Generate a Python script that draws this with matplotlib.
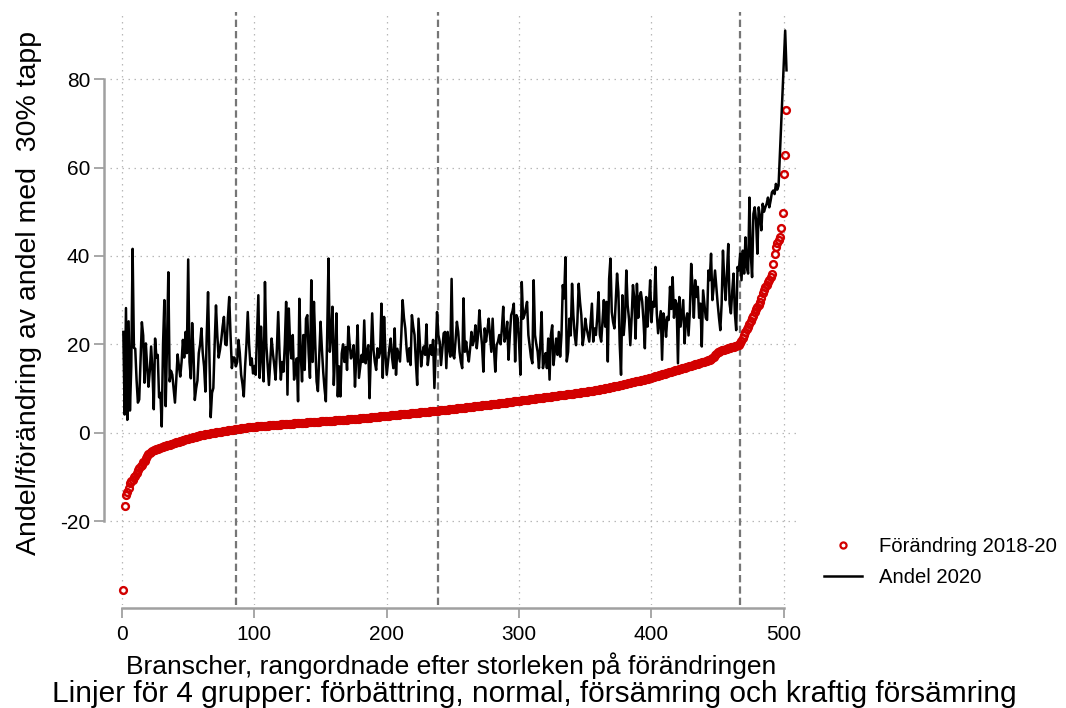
import numpy as np
import matplotlib
matplotlib.use("Agg")
import matplotlib.pyplot as plt
from matplotlib.lines import Line2D

plt.rcParams['font.family'] = ['Liberation Sans', 'DejaVu Sans']

# Change in share with a 30% drop, 2018-20, sorted ascending (one value per industry)
change_2018_20 = [
    -35.6, -16.5, -14.0, -13.4, -12.6, -11.3, -10.9, -10.6, -10.1, -9.7,
    -9.1, -8.4, -8.0, -7.6, -7.3, -6.7, -6.3, -5.8, -5.3, -4.9,
    -4.7, -4.4, -4.2, -4.0, -3.9, -3.7, -3.6, -3.5, -3.4, -3.3,
    -3.2, -3.1, -3.0, -2.9, -2.8, -2.7, -2.6, -2.5, -2.4, -2.3,
    -2.2, -2.1, -2.0, -1.9, -1.8, -1.7, -1.6, -1.5, -1.45, -1.35,
    -1.3, -1.2, -1.1, -1.05, -0.95, -0.9, -0.8, -0.7, -0.6, -0.55,
    -0.5, -0.45, -0.4, -0.3, -0.25, -0.2, -0.15, -0.1, -0.05, 0.0,
    0.05, 0.1, 0.15, 0.2, 0.25, 0.3, 0.35, 0.4, 0.45, 0.5,
    0.55, 0.58, 0.64, 0.7, 0.72, 0.79, 0.83, 0.9, 0.94, 1.0,
    1.03, 1.07, 1.1, 1.15, 1.18, 1.2, 1.24, 1.28, 1.3, 1.33,
    1.36, 1.4, 1.42, 1.45, 1.48, 1.5, 1.53, 1.56, 1.58, 1.6,
    1.63, 1.65, 1.68, 1.7, 1.73, 1.75, 1.78, 1.8, 1.82, 1.85,
    1.87, 1.9, 1.92, 1.94, 1.97, 2.0, 2.02, 2.04, 2.06, 2.09,
    2.11, 2.13, 2.16, 2.18, 2.2, 2.22, 2.25, 2.27, 2.29, 2.31,
    2.33, 2.36, 2.38, 2.4, 2.42, 2.44, 2.47, 2.49, 2.51, 2.53,
    2.55, 2.58, 2.6, 2.62, 2.64, 2.66, 2.69, 2.71, 2.73, 2.75,
    2.77, 2.8, 2.82, 2.84, 2.86, 2.88, 2.91, 2.93, 2.95, 2.97,
    3.0, 3.02, 3.05, 3.07, 3.1, 3.12, 3.15, 3.18, 3.2, 3.23,
    3.26, 3.29, 3.31, 3.34, 3.37, 3.4, 3.43, 3.46, 3.49, 3.52,
    3.55, 3.58, 3.61, 3.64, 3.67, 3.7, 3.73, 3.76, 3.79, 3.82,
    3.85, 3.88, 3.91, 3.94, 3.97, 4.0, 4.03, 4.06, 4.09, 4.12,
    4.15, 4.18, 4.21, 4.24, 4.27, 4.3, 4.33, 4.36, 4.39, 4.42,
    4.45, 4.48, 4.51, 4.54, 4.57, 4.6, 4.63, 4.66, 4.69, 4.72,
    4.75, 4.78, 4.81, 4.84, 4.87, 4.9, 4.93, 4.96, 4.99, 5.02,
    5.06, 5.1, 5.13, 5.17, 5.2, 5.24, 5.27, 5.31, 5.34, 5.38,
    5.41, 5.45, 5.48, 5.52, 5.55, 5.59, 5.62, 5.66, 5.69, 5.73,
    5.76, 5.8, 5.83, 5.87, 5.9, 5.94, 5.97, 6.01, 6.04, 6.08,
    6.11, 6.15, 6.18, 6.22, 6.25, 6.29, 6.32, 6.36, 6.39, 6.43,
    6.46, 6.5, 6.54, 6.58, 6.62, 6.66, 6.7, 6.74, 6.78, 6.82,
    6.86, 6.9, 6.94, 6.98, 7.02, 7.06, 7.1, 7.14, 7.18, 7.22,
    7.26, 7.3, 7.34, 7.38, 7.42, 7.46, 7.5, 7.54, 7.58, 7.62,
    7.66, 7.7, 7.74, 7.78, 7.82, 7.86, 7.9, 7.94, 7.98, 8.02,
    8.06, 8.1, 8.14, 8.18, 8.22, 8.26, 8.3, 8.34, 8.38, 8.42,
    8.46, 8.5, 8.54, 8.58, 8.62, 8.66, 8.7, 8.74, 8.78, 8.82,
    8.86, 8.9, 8.94, 8.98, 9.02, 9.06, 9.1, 9.14, 9.18, 9.22,
    9.27, 9.32, 9.37, 9.42, 9.47, 9.52, 9.57, 9.62, 9.67, 9.72,
    9.78, 9.84, 9.9, 9.96, 10.02, 10.08, 10.14, 10.2, 10.26, 10.32,
    10.39, 10.46, 10.53, 10.6, 10.67, 10.74, 10.81, 10.88, 10.95, 11.02,
    11.09, 11.16, 11.23, 11.3, 11.37, 11.44, 11.51, 11.58, 11.65, 11.72,
    11.79, 11.86, 11.93, 12.0, 12.08, 12.16, 12.24, 12.32, 12.4, 12.48,
    12.57, 12.66, 12.75, 12.84, 12.93, 13.02, 13.11, 13.2, 13.29, 13.38,
    13.47, 13.56, 13.65, 13.74, 13.83, 13.92, 14.01, 14.1, 14.19, 14.28,
    14.37, 14.46, 14.55, 14.64, 14.73, 14.82, 14.91, 15.0, 15.09, 15.18,
    15.27, 15.36, 15.45, 15.54, 15.63, 15.72, 15.81, 15.9, 15.99, 16.08,
    16.17, 16.26, 16.35, 16.44, 16.6, 16.8, 17.1, 17.5, 17.9, 18.2,
    18.35, 18.5, 18.6, 18.7, 18.8, 18.9, 19.0, 19.1, 19.2, 19.3,
    19.4, 19.5, 19.6, 19.7, 19.8, 19.9, 20.2, 20.8, 21.4, 22.1,
    22.7, 23.4, 24.0, 24.6, 25.3, 25.9, 26.5, 27.3, 27.9, 28.5,
    29.0, 29.6, 30.5, 31.5, 32.3, 32.9, 33.4, 34.0, 34.5, 35.2,
    36.0, 38.2, 40.5, 42.0, 43.0, 43.5, 44.2, 46.4, 49.7, 58.5,
    62.8, 73.0,
]

# Share with a 30% drop in 2020, same industry order (None = missing)
share_2020 = [
    22.8, 4.1, 28.2, 2.9, 25.2, 5.0, 15.0, 41.6, 19.2, 19.0,
    12.0, 6.8, 7.5, 16.0, 25.0, 22.0, 11.3, 20.2, 15.0, 10.4,
    14.0, 19.5, 14.0, 5.3, 21.3, 17.0, 17.6, 8.0, 9.0, 1.4,
    20.0, 30.0, 6.0, 20.0, 36.3, 11.6, 14.0, 13.1, 10.0, 6.8,
    12.0, 17.7, 15.0, 12.7, 16.0, 21.0, 17.0, 22.8, 18.0, 39.2,
    16.0, 12.3, 24.8, 18.0, 7.4, 10.0, 11.8, 18.0, 20.0, 23.6,
    18.0, 15.0, 9.3, 22.0, 31.8, 18.0, 3.5, 9.0, 10.1, 20.0,
    28.8, 22.0, 17.0, 18.7, 21.0, 24.0, 26.2, 20.0, 19.8, 26.0,
    30.7, 22.0, 14.6, 17.0, 17.0, 15.0, 16.0, 21.0, 18.0, 13.1,
    11.0, 8.2, 15.0, 20.0, 27.3, 20.0, 15.3, 16.8, 13.4, 15.0,
    13.1, 22.0, 31.1, 12.4, 24.0, 17.0, 11.6, 34.1, 20.0, 15.3,
    10.8, 16.0, 21.3, 18.0, 15.3, 12.0, 19.0, 27.3, 18.0, 12.0,
    16.0, 13.8, 20.0, 29.6, 8.6, 28.1, 20.0, 16.8, 22.1, 12.0,
    15.0, 16.8, 7.1, 30.3, 18.0, 11.6, 22.1, 14.2, 25.8, 26.6,
    18.0, 12.4, 34.5, 16.0, 29.6, 20.0, 11.6, 9.4, 17.0, 25.1,
    19.0, 13.8, 10.0, 7.1, 22.0, 39.4, 18.3, 22.0, 28.5, 10.8,
    18.0, 27.0, 8.2, 15.0, 8.2, 17.9, 20.0, 16.0, 19.4, 14.2,
    24.0, 20.0, 16.8, 18.0, 19.8, 10.4, 17.0, 24.3, 12.4, 15.0,
    17.6, 16.0, 25.4, 15.7, 18.0, 19.8, 7.8, 18.0, 27.0, 18.7,
    16.0, 14.2, 19.1, 17.0, 18.3, 29.2, 12.4, 26.2, 18.0, 13.1,
    16.0, 19.1, 21.3, 17.0, 14.6, 23.6, 13.1, 19.0, 17.6, 16.1,
    22.1, 30.0, 26.0, 23.6, 19.0, 16.1, 19.1, 15.3, 26.6, 24.0,
    22.1, 16.0, 10.8, 25.8, 20.6, 15.0, 18.0, 19.5, 17.6, 24.5,
    15.3, 18.0, 19.8, 17.6, 21.0, 10.1, 19.0, 27.3, 22.1, 20.6,
    15.3, 19.0, 22.5, 22.8, 14.6, 22.8, 19.0, 17.2, 34.8, 17.6,
    16.8, 21.0, 25.1, 22.8, 18.3, 16.0, 14.6, 30.4, 18.3, 20.6,
    18.0, 16.1, 19.1, 22.8, 19.8, 21.0, 24.3, 19.1, 22.1, 27.7,
    23.0, 19.8, 13.8, 23.6, 20.6, 23.0, 25.8, 22.1, 18.3, 25.8,
    19.0, 13.8, 19.8, 20.6, 22.1, 20.0, 23.6, 28.5, 20.6, 22.0,
    25.1, 16.5, 22.1, 26.6, 27.5, 29.2, 16.1, 26.6, 25.8, 20.0,
    13.1, 34.1, 25.8, 26.6, 28.0, 29.6, 22.1, 19.5, 17.0, 15.7,
    34.5, 22.1, 20.0, 18.3, 14.6, 20.2, 27.3, 14.6, 16.5, 18.0,
    14.6, 21.3, 12.0, 22.1, 24.3, 15.3, 18.5, 21.3, 17.6, 22.8,
    17.2, 22.1, 33.4, 30.4, 39.7, 16.1, 18.3, 25.8, 22.0, 33.7,
    26.6, 22.0, 19.8, 25.0, 33.7, 29.6, 26.6, 19.8, 22.0, 25.8,
    23.6, 22.1, 20.6, 25.0, 29.2, 20.6, 23.6, 22.1, 26.0, 31.8,
    22.1, 20.6, 25.1, 30.0, 24.0, 29.6, 16.1, 34.8, 39.4, 27.3,
    25.0, 23.6, 29.6, 36.0, 31.8, 20.0, 13.1, 31.1, 22.1, 26.0,
    36.7, 28.8, 25.8, 19.8, 26.0, 33.4, 30.4, 21.3, 33.7, 26.0,
    30.7, 31.8, 29.6, 25.1, 19.1, 30.7, 24.0, 28.5, 34.5, 25.0,
    29.6, 28.5, 37.5, 27.0, 22.5, 25.0, 27.5, 16.5, 27.0, 25.5,
    21.7, 26.2, 25.5, 33.0, 28.0, 35.2, 26.0, 30.0, 29.2, 15.7,
    30.7, 24.0, 27.0, 30.0, 20.2, 25.5, 27.0, 22.0, 27.5, 38.2,
    33.0, 26.0, 34.5, 30.7, 33.0, 26.0, 29.2, 19.5, 32.2, 29.2,
    26.0, 25.5, 36.7, 34.5, 40.5, 30.0, 33.0, 36.7, 33.0, 29.2,
    26.0, 23.2, 29.2, 41.2, 34.5, 30.0, 36.0, 42.7, 29.2, 27.0,
    32.0, 36.0, 27.0, 23.2, 37.5, 36.7, 40.5, 34.5, 41.2, 36.0,
    44.2, 37.5, 36.0, 53.2, 40.5, 35.2, 49.5, 51.0, 48.0, 40.5,
    51.0, 48.7, 45.8, 51.8, 50.0, 51.0, 51.8, 53.2, 51.0, 52.5,
    54.4, 54.8, 54.0, 56.3, 55.0, 55.9, None, None, None, None,
    91.0, 82.0,
]

# Rank cut-offs separating the four groups
group_cuts = [86, 239, 467]

x_ticks = [0, 100, 200, 300, 400, 500]
y_ticks = [-20, 0, 20, 40, 60, 80]

RED = '#d20000'
AXIS_GREY = '#a0a0a0'
GRID_GREY = '#b8b8b8'

assert len(change_2018_20) == len(share_2020)
rank = np.arange(1, len(change_2018_20) + 1)
share = np.array([np.nan if v is None else v for v in share_2020], dtype=float)
ok = ~np.isnan(share)

fig = plt.figure(figsize=(10.66, 7.08), dpi=100)
ax = fig.add_axes([110 / 1066, 1 - 605 / 708, 690 / 1066, 593 / 708])

ax.set_xlim(-9.07, 512.2)
ax.set_ylim(-39.0, 95.2)

# dotted grid
for xv in x_ticks:
    ax.axvline(xv, color=GRID_GREY, lw=0.9, ls=(0, (1.2, 3.6)), zorder=0)
for yv in y_ticks:
    ax.axhline(yv, color=GRID_GREY, lw=0.9, ls=(0, (1.2, 3.6)), zorder=0)

# group separators
for c in group_cuts:
    ax.axvline(c, color='#767676', lw=1.6, ls=(0, (3.3, 1.8)), zorder=1)

ax.plot(rank, change_2018_20, ls='none', marker='o', ms=4.9, mew=1.7,
        mfc='none', mec=RED, zorder=2)
ax.plot(rank[ok], share[ok], color='black', lw=1.8, zorder=3)

# axes styling
for s in ['top', 'right']:
    ax.spines[s].set_visible(False)
ax.spines['left'].set_position(('outward', 4.3))
ax.spines['bottom'].set_position(('outward', 2.2))
ax.spines['left'].set_bounds(-20, 80)
ax.spines['bottom'].set_bounds(0, 500)
for s in ['left', 'bottom']:
    ax.spines[s].set_color(AXIS_GREY)
    ax.spines[s].set_linewidth(1.8)

ax.set_xticks(x_ticks)
ax.set_yticks(y_ticks)
ax.set_xticklabels([str(v) for v in x_ticks])
ax.set_yticklabels([str(v) for v in y_ticks])
ax.tick_params(axis='both', colors=AXIS_GREY, labelcolor='black', labelsize=15,
               length=7, width=1.3, direction='out')
ax.tick_params(axis='x', pad=5)
ax.tick_params(axis='y', pad=3)

fig.text(29 / 1066, 1 - 293 / 708, 'Andel/förändring av andel med  30% tapp',
         rotation=90, ha='center', va='center', fontsize=20.5)
fig.text(451 / 1066, 1 - 666 / 708,
         'Branscher, rangordnade efter storleken på förändringen',
         ha='center', va='center', fontsize=19)
fig.text(534 / 1066, 1 - 694 / 708,
         'Linjer för 4 grupper: förbättring, normal, försämring och kraftig försämring',
         ha='center', va='center', fontsize=21.5)

handles = [
    Line2D([], [], ls='none', marker='o', ms=4.4, mew=1.6, mfc='none', mec=RED),
    Line2D([], [], color='black', lw=1.8),
]
fig.legend(handles, ['Förändring 2018-20', 'Andel 2020'], loc='center left',
           bbox_to_anchor=(824 / 1066, 1 - 562 / 708), frameon=False,
           fontsize=14.6, handlelength=1.85, handletextpad=0.85,
           labelspacing=0.62, borderpad=0, borderaxespad=0)

fig.savefig('out.png', dpi=100)
